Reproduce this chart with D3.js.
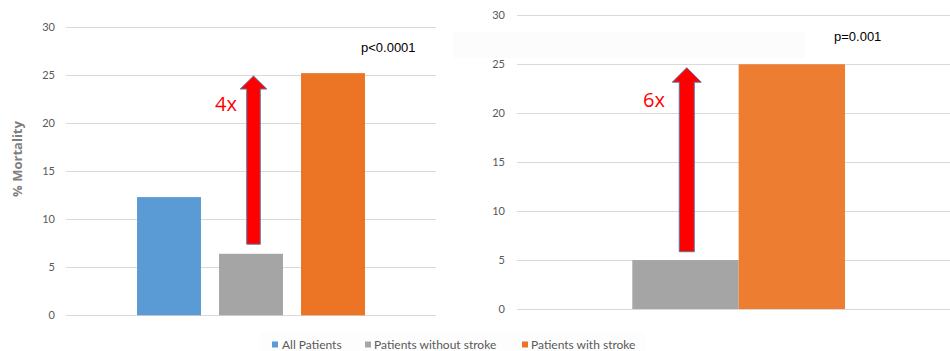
<!DOCTYPE html>
<html><head><meta charset="utf-8">
<script src="https://cdn.jsdelivr.net/npm/d3@7"></script>
<style>body{margin:0;background:#fff;}svg{display:block;}</style>
</head><body>
<script>
const seriesNames = ["All Patients", "Patients without stroke", "Patients with stroke"];
const leftValues = [12.3, 6.4, 25.2];
const rightSeries = ["Patients without stroke", "Patients with stroke"];
const rightValues = [5.0, 25.0];
const yTicks = [0, 5, 10, 15, 20, 25, 30];
const leftArrow = {from: 7.4, to: 24.9, label: "4x", p: "p<0.0001"};
const rightArrow = {from: 5.85, to: 24.65, label: "6x", p: "p=0.001"};
const colors = {"All Patients": "#5B9BD5", "Patients without stroke": "#A5A5A5", "Patients with stroke": "#EB7524"};

const W = 950, H = 351;
const svg = d3.select("body").append("svg").attr("width", W).attr("height", H);
const font = "Lato, 'Open Sans', sans-serif";

// faint text box backgrounds
svg.append("rect").attr("x", 453).attr("y", 32).attr("width", 352).attr("height", 26).attr("fill", "#fcfcfc");
svg.append("rect").attr("x", 260).attr("y", 333).attr("width", 385).attr("height", 18).attr("fill", "#fdfdfd");

function panel(cfg) {
  const g = svg.append("g");
  const y = d3.scaleLinear().domain([0, 30]).range([cfg.y0, cfg.y30]);
  const x = d3.scaleBand().domain(cfg.series).range(cfg.bandRange)
    .paddingInner(cfg.padIn).paddingOuter(cfg.padOut);
  // gridlines
  g.selectAll("line.grid").data(yTicks).join("line")
    .attr("x1", cfg.gx0).attr("x2", cfg.gx1)
    .attr("y1", d => Math.round(y(d)) + 0.5).attr("y2", d => Math.round(y(d)) + 0.5)
    .attr("stroke", "#D9D9D9").attr("stroke-width", 1);
  // axis labels
  const ax = d3.axisLeft(y).tickValues(yTicks).tickSize(0).tickPadding(0);
  const axg = g.append("g").attr("transform", `translate(${cfg.labelX},0)`).call(ax);
  axg.select(".domain").remove();
  axg.selectAll("text").attr("fill", "#595959").style("font-family", font).style("font-size", "11px");
  // bars
  g.selectAll("rect.bar").data(cfg.values).join("rect")
    .attr("x", (d, i) => x(cfg.series[i])).attr("width", x.bandwidth())
    .attr("y", d => y(d)).attr("height", d => y(0) - y(d))
    .attr("fill", (d, i) => cfg.colors[i]);
  // arrow
  const a = cfg.arrow;
  const cx = x("Patients without stroke") + x.bandwidth() / 2 + cfg.arrowDx;
  const sw = cfg.shaftW / 2, hw = cfg.headW / 2;
  const yb = y(a.from), yt = y(a.to), yh = yt + cfg.headH;
  const pts = [[cx - sw, yb], [cx - sw, yh], [cx - hw, yh], [cx, yt], [cx + hw, yh], [cx + sw, yh], [cx + sw, yb]];
  g.append("path").attr("d", d3.line()(pts) + "Z")
    .attr("fill", "#FF0000").attr("stroke", "#5A74A0").attr("stroke-width", 1);
  g.append("text").attr("x", cfg.multX).attr("y", cfg.multY).text(a.label)
    .attr("fill", "#FF0000").style("font-family", "'Open Sans', sans-serif").style("font-size", "20px");
  g.append("text").attr("x", cfg.pX).attr("y", cfg.pY).text(a.p)
    .attr("fill", "#000").style("font-family", "'Liberation Sans', Arial, sans-serif").style("font-size", "13px");
}

panel({
  y0: 315.3, y30: 27, gx0: 66, gx1: 436, labelX: 55,
  series: seriesNames, values: leftValues,
  colors: [colors["All Patients"], colors["Patients without stroke"], colors["Patients with stroke"]],
  bandRange: [128, 374], padIn: 0.22, padOut: 0.11,
  arrow: leftArrow, arrowDx: 2.5, shaftW: 13.5, headW: 26.5, headH: 13,
  multX: 215, multY: 111, pX: 361, pY: 52
});

panel({
  y0: 309, y30: 15.3, gx0: 517, gx1: 950, labelX: 505,
  series: rightSeries, values: rightValues,
  colors: [colors["Patients without stroke"], "#ED7D31"],
  bandRange: [632.3, 845], padIn: 0, padOut: 0,
  arrow: rightArrow, arrowDx: 1.3, shaftW: 15, headW: 29, headH: 14.5,
  multX: 643, multY: 107, pX: 834, pY: 41
});

// y axis title
svg.append("text").attr("transform", "translate(22,159) rotate(-90)")
  .attr("text-anchor", "middle").text("% Mortality")
  .attr("fill", "#7F7F7F").style("font-family", "'Open Sans', sans-serif").style("font-weight", "bold").style("font-size", "13px");

// legend
const legendItems = [
  {name: "All Patients", sx: 272, tx: 282},
  {name: "Patients without stroke", sx: 365, tx: 374},
  {name: "Patients with stroke", sx: 522, tx: 531}
];
const lg = svg.append("g");
lg.selectAll("rect").data(legendItems).join("rect")
  .attr("x", d => d.sx).attr("y", 341.5).attr("width", 6).attr("height", 6)
  .attr("fill", d => colors[d.name]);
lg.selectAll("text").data(legendItems).join("text")
  .attr("x", d => d.tx).attr("y", 348.5).text(d => d.name)
  .attr("fill", "#595959").style("font-family", font).style("font-size", "12px");
</script>
</body></html>
